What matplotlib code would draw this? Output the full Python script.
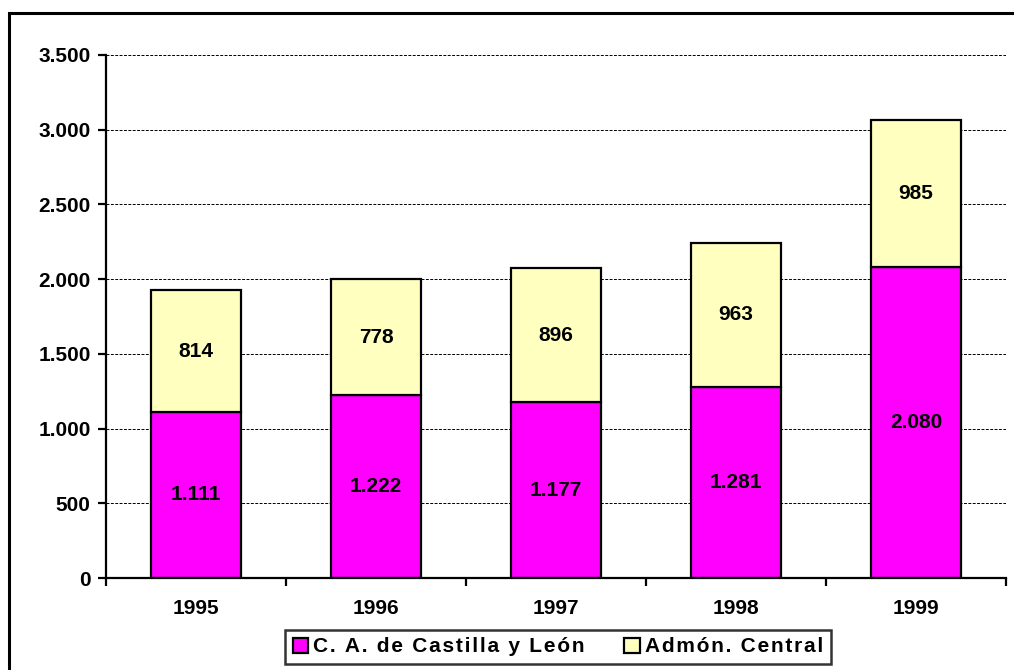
import matplotlib
matplotlib.use("Agg")
import matplotlib.pyplot as plt
from matplotlib.patches import Rectangle
from matplotlib.ticker import FuncFormatter, FixedLocator
import numpy as np

years = ["1995", "1996", "1997", "1998", "1999"]
castilla = [1111, 1222, 1177, 1281, 2080]
central = [814, 778, 896, 963, 985]
series_names = ["C. A. de Castilla y León", "Admón. Central"]
colors = ["#FF00FF", "#FFFFC0"]

plt.rcParams['font.family'] = ['Liberation Sans', 'DejaVu Sans']
plt.rcParams['font.weight'] = 'bold'

fig = plt.figure(figsize=(10.14, 6.70), dpi=100)
W, H = 1014, 670
ax = fig.add_axes([106 / W, 1 - 578 / H, 900 / W, (578 - 55) / H])

# outer border
fig.patches.append(Rectangle((9 / W, -0.05), 1.1, 1 - 13.5 / H + 0.05,
                             transform=fig.transFigure, fill=False,
                             edgecolor='black', linewidth=2.2, zorder=0))

x = np.arange(len(years))
ax.set_axisbelow(True)
ax.yaxis.grid(True, color='black', linestyle=(0, (3, 1.5)), linewidth=0.7)
b1 = ax.bar(x, castilla, width=0.5, color=colors[0], edgecolor='black', linewidth=1.6, zorder=3)
b2 = ax.bar(x, central, width=0.5, bottom=castilla, color=colors[1], edgecolor='black', linewidth=1.6, zorder=3)

def fmt(v):
    return f"{int(v):,}".replace(",", ".")

FS = 15
for i in range(len(years)):
    ax.text(x[i], castilla[i] / 2, fmt(castilla[i]), ha='center', va='center',
            fontsize=FS, fontweight='bold', zorder=4)
    ax.text(x[i], castilla[i] + central[i] / 2, fmt(central[i]), ha='center', va='center',
            fontsize=FS, fontweight='bold', zorder=4)

ax.set_xlim(-0.5, len(years) - 0.5)
ax.set_ylim(0, 3500)
ax.set_yticks(np.arange(0, 3501, 500))
ax.yaxis.set_major_formatter(FuncFormatter(lambda v, p: fmt(v)))
ax.set_xticks(x)
ax.set_xticklabels(years)
ax.xaxis.set_minor_locator(FixedLocator(np.arange(-0.5, len(years), 1.0)))
ax.tick_params(axis='x', which='major', length=0, pad=15, labelsize=FS)
ax.tick_params(axis='x', which='minor', length=6, width=1.6, direction='out')
ax.tick_params(axis='y', length=6, width=1.6, direction='out', labelsize=FS, pad=5)
for lab in ax.get_xticklabels() + ax.get_yticklabels():
    lab.set_fontweight('bold')

for s in ['top', 'right']:
    ax.spines[s].set_visible(False)
for s in ['left', 'bottom']:
    ax.spines[s].set_linewidth(1.6)
    ax.spines[s].set_zorder(5)

def spaced(s):
    return "\u200a".join(s)

leg = fig.legend([b1, b2], [spaced(n) for n in series_names], loc='center', ncol=2,
                 bbox_to_anchor=(558 / W, 1 - 647 / H), frameon=True,
                 fancybox=False, edgecolor='black', fontsize=15,
                 handlelength=0.75, handleheight=0.75, handletextpad=0.25,
                 columnspacing=1.9, borderpad=0.35, borderaxespad=0)
leg.get_frame().set_linewidth(1.8)
for t in leg.get_texts():
    t.set_fontweight('bold')

fig.savefig("out.png", dpi=100)
